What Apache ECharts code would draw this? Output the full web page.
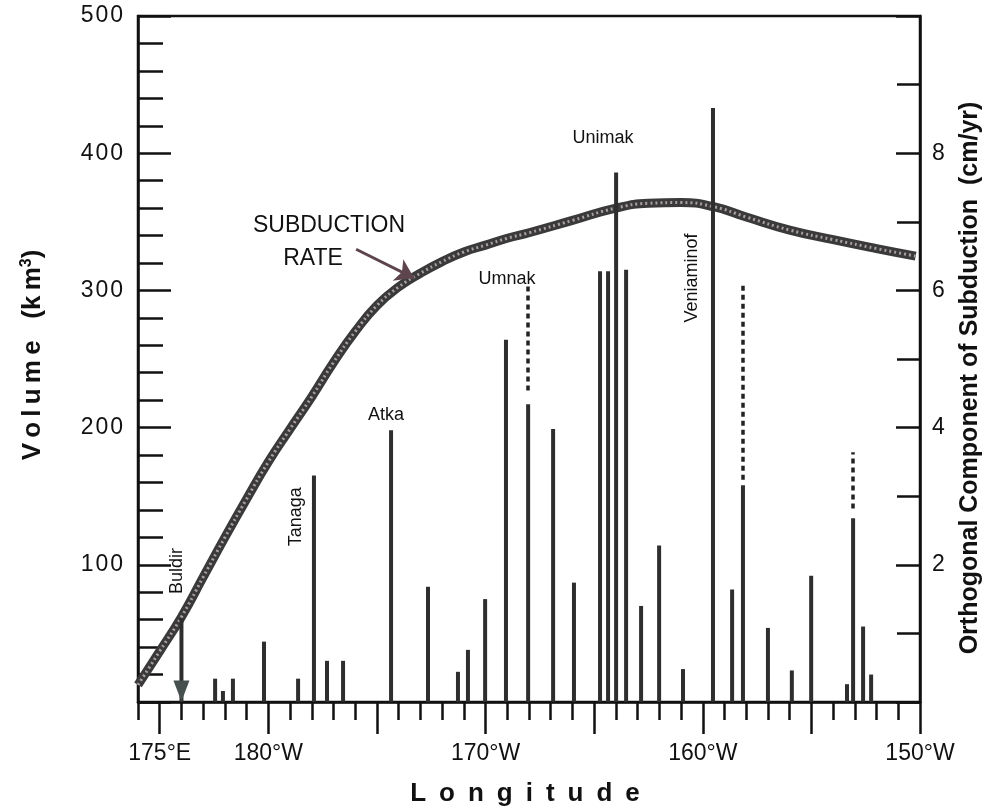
<!DOCTYPE html>
<html>
<head>
<meta charset="utf-8">
<script src="https://cdn.jsdelivr.net/npm/echarts@6/dist/echarts.min.js"></script>
<style>
  html, body { margin: 0; padding: 0; background: #fff; }
  #chart { width: 985px; height: 811px; }
</style>
</head>
<body>
<div id="chart"></div>
<script>
// Longitude runs continuously eastward across the dateline: 180 = 180°, 190 = 170°W, 210 = 150°W.
const lonMin = 174;
const lonMax = 210;
const lonMajorTicks = [175, 180, 185, 190, 195, 200, 205, 210];
const lonLabelTicks = [175, 180, 190, 200, 210];

// Volcanic centres along the arc: longitude and erupted volume (km³)
const volcanoLon = [177.55, 177.91, 178.37, 179.80, 181.37, 182.10, 182.70, 183.44,
  185.65, 187.35, 188.73, 189.19, 189.98, 190.94, 191.96, 193.11, 194.07,
  195.27, 195.64, 196.01, 196.47, 197.16, 197.99, 199.09, 200.47, 201.35,
  201.85, 203.00, 204.10, 204.99, 206.64, 206.92, 207.38, 207.75];
const volcanoVolume = [17, 8, 17, 44, 17, 165, 30, 30,
  198, 84, 22, 38, 75, 264, 217, 199, 87,
  314, 314, 386, 315, 70, 114, 24, 433, 82,
  158, 54, 23, 92, 13, 134, 55, 20];

// Buldir, marked with an arrow
const buldirLon = 176.0;
const buldirVolume = 61;

// Possible additional volume (dashed upward extensions)
const extraLon = [191.96, 201.85, 206.92];
const extraFrom = [227, 162, 141];
const extraTo = [303, 305, 182];

// Orthogonal component of subduction (cm/yr)
const rateLon = [174.0, 175.0, 176.0, 177.0, 178.0, 179.0, 180.0, 181.0, 182.0, 183.0,
  184.0, 185.0, 186.0, 187.0, 188.0, 189.0, 190.0, 191.0, 192.0, 194.0, 196.0,
  197.5, 199.0, 200.5, 202.0, 204.0, 206.0, 208.0, 209.8];
const rateValue = [0.25, 0.74, 1.24, 1.82, 2.40, 2.96, 3.50, 3.98, 4.45, 4.95,
  5.40, 5.78, 6.05, 6.25, 6.42, 6.56, 6.66, 6.76, 6.84, 7.02, 7.20,
  7.27, 7.28, 7.22, 7.07, 6.88, 6.74, 6.61, 6.50];

// Volcano names: name, longitude, volume-axis position, rotated?
const nameText = ['Unimak', 'Umnak', 'Atka', 'Tanaga', 'Buldir', 'Veniaminof'];
const nameLon = [195.41, 190.99, 185.42, 181.27, 175.80, 199.51];
const nameVol = [411, 308, 209, 135, 95.5, 309];
const nameVertical = [false, false, false, true, true, true];

// Arrow from the "SUBDUCTION RATE" caption to the curve (lon, cm/yr)
const captionArrow = [[184.04, 6.60], [186.71, 6.18]];

const FONT = '"Liberation Sans", Arial, Helvetica, sans-serif';
const INK = '#111';

function lonLabel(v) {
  if (v < 180) return v + '°E';
  if (v === 180) return '180°W';
  return (360 - v) + '°W';
}

// Spread letters with thin spaces, the way the typeset titles are tracked
const spaced = s => s.split('').join('\u2009');

const chart = echarts.init(document.getElementById('chart'), null, { renderer: 'canvas' });

const option = {
  backgroundColor: '#fff',
  animation: false,
  grid: {
    left: 138, right: 65, top: 16, bottom: 109,
    show: true, borderColor: INK, borderWidth: 2.5, backgroundColor: 'transparent'
  },
  xAxis: [
    {
      type: 'value', min: lonMin, max: lonMax, interval: 1,
      axisLine: { show: true, lineStyle: { color: INK, width: 2.5 } },
      axisTick: { show: true, inside: false, length: 18, lineStyle: { color: INK, width: 2.5 } },
      axisLabel: { show: false },
      splitLine: { show: false }
    },
    {
      type: 'value', min: lonMin, max: lonMax, position: 'bottom', gridIndex: 0,
      axisLine: { show: false },
      axisTick: { show: true, inside: false, length: 32, customValues: lonMajorTicks,
        lineStyle: { color: INK, width: 2.5 } },
      axisLabel: { show: true, customValues: lonLabelTicks, formatter: lonLabel,
        margin: 40, color: INK, fontSize: 23, fontFamily: FONT },
      splitLine: { show: false }
    }
  ],
  yAxis: [
    {
      type: 'value', min: 0, max: 500, interval: 100, position: 'left',
      axisLine: { show: true, lineStyle: { color: INK, width: 2.5 } },
      axisTick: { show: true, inside: true, length: 33, lineStyle: { color: INK, width: 2.5 } },
      minorTick: { show: true, splitNumber: 5, length: 25, lineStyle: { color: INK, width: 2.5 } },
      axisLabel: { margin: 15, color: INK, fontSize: 23, fontFamily: FONT,
        formatter: v => v === 0 ? '' : String(v).split('').join('\u200a') },
      splitLine: { show: false }
    },
    {
      type: 'value', min: 0, max: 10, interval: 2, position: 'right',
      axisLine: { show: true, lineStyle: { color: INK, width: 2.5 } },
      axisTick: { show: true, inside: true, length: 24, lineStyle: { color: INK, width: 2.5 } },
      minorTick: { show: true, splitNumber: 2, length: 23, lineStyle: { color: INK, width: 2.5 } },
      axisLabel: { margin: 12, color: INK, fontSize: 23, fontFamily: FONT,
        formatter: v => (v === 0 || v === 10) ? '' : String(v) },
      splitLine: { show: false }
    }
  ],
  graphic: [
    {
      type: 'text', x: 33, y: 355, rotation: Math.PI / 2,
      style: {
        text: spaced('Volume') + '   (' + spaced('km') + '{sup|3})', fill: INK,
        font: 'bold 26px ' + FONT, align: 'center', verticalAlign: 'middle',
        rich: { sup: { font: 'bold 16px ' + FONT, verticalAlign: 'top', padding: [0, 0, 12, 0] } }
      }
    },
    {
      type: 'text', x: 970, y: 378, rotation: Math.PI / 2,
      style: {
        text: 'Orthogonal Component of Subduction  (cm/yr)', fill: INK,
        font: 'bold 25px ' + FONT, align: 'center', verticalAlign: 'middle'
      }
    },
    {
      type: 'text', x: 525, y: 794,
      style: {
        text: 'L\u2002o\u2002n\u2002g\u2002i\u2002t\u2002u\u2002d\u2002e', fill: INK,
        font: 'bold 26px ' + FONT, align: 'center', verticalAlign: 'middle'
      }
    },
    {
      type: 'text', x: 329, y: 226,
      style: { text: 'SUBDUCTION', fill: INK, font: '23px ' + FONT, align: 'center', verticalAlign: 'middle' }
    },
    {
      type: 'text', x: 313, y: 259,
      style: { text: 'RATE', fill: INK, font: '23px ' + FONT, align: 'center', verticalAlign: 'middle' }
    }
  ],
  series: [
    {
      name: 'Subduction rate', type: 'line', xAxisIndex: 0, yAxisIndex: 1,
      data: rateLon.map((l, i) => [l, rateValue[i]]),
      smooth: 0.5, showSymbol: false, z: 2,
      lineStyle: { color: '#3a3a3a', width: 9 }
    },
    {
      name: 'Subduction rate texture', type: 'line', xAxisIndex: 0, yAxisIndex: 1,
      data: rateLon.map((l, i) => [l, rateValue[i]]),
      smooth: 0.5, showSymbol: false, z: 3,
      lineStyle: { color: '#a89ea2', width: 3, type: [2, 3] }
    },
    {
      name: 'Volume', type: 'bar', xAxisIndex: 0, yAxisIndex: 0,
      barWidth: 4, z: 4,
      itemStyle: { color: '#2e2e2e' },
      data: volcanoLon.map((l, i) => [l, volcanoVolume[i]]).concat([[buldirLon, buldirVolume]])
    },
    {
      name: 'Buldir arrowhead', type: 'scatter', xAxisIndex: 0, yAxisIndex: 0, z: 5,
      symbol: 'triangle', symbolSize: [16, 21], symbolRotate: 180, symbolOffset: [0, -11],
      itemStyle: { color: '#45504f', opacity: 1 },
      data: [[buldirLon, 0]]
    },
    {
      name: 'Possible volume', type: 'lines', coordinateSystem: 'cartesian2d',
      xAxisIndex: 0, yAxisIndex: 0, z: 4,
      symbol: 'none',
      lineStyle: { color: '#222', width: 3.5, type: [5, 4], opacity: 1 },
      data: extraLon.map((l, i) => ({ coords: [[l, extraFrom[i]], [l, extraTo[i]]] }))
    },
    {
      name: 'Caption arrow', type: 'lines', coordinateSystem: 'cartesian2d',
      xAxisIndex: 0, yAxisIndex: 1, z: 6,
      symbol: ['none', 'arrow'], symbolSize: 18,
      lineStyle: { color: '#5e454d', width: 3, opacity: 1 },
      data: [{ coords: captionArrow }]
    },
    {
      name: 'Names', type: 'scatter', xAxisIndex: 0, yAxisIndex: 0, z: 7,
      symbolSize: 0, silent: true,
      itemStyle: { opacity: 1 },
      label: { show: true, position: 'inside', color: INK, opacity: 1, fontSize: 18, fontFamily: FONT,
        formatter: p => p.name },
      data: nameText.map((n, i) => ({
        name: n, value: [nameLon[i], nameVol[i]],
        label: { rotate: nameVertical[i] ? 90 : 0 }
      }))
    }
  ]
};

chart.setOption(option);
</script>
</body>
</html>
